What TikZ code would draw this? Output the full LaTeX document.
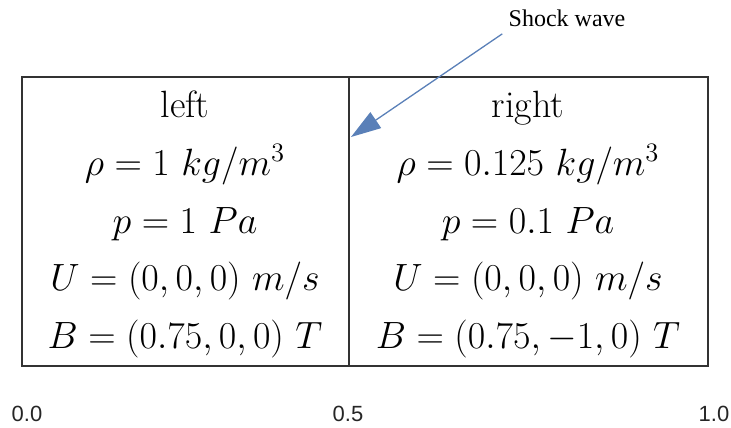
\RequirePackage{fix-cm}
\documentclass[tikz,border=0pt]{standalone}
\usepackage{fontspec}
\usepackage{amsmath}
\usepackage{tikz}
\usetikzlibrary{calc, positioning, arrows.meta}
\newfontfamily\axisfont{Liberation Sans}
\newfontfamily\notefont{Liberation Serif}
\definecolor{boxgray}{HTML}{333333}
\definecolor{wave}{HTML}{5A80B8}
\newcommand{\cellsize}{\fontsize{19}{23}\selectfont}

\begin{document}
\begin{tikzpicture}[x=0.5pt,y=-0.5pt]
  \tikzset{cell/.style={inner sep=0,outer sep=0,anchor=base,font=\cellsize},
    axis label/.style={inner sep=0,font=\axisfont\fontsize{11}{13}\selectfont,text=black!85},
    wall/.style={draw=boxgray,line width=0.8pt}}
  \useasboundingbox (0,0) rectangle (731,427);
  \coordinate(nw) at (22,77);
  \coordinate(se) at (708,366);
  \coordinate(mt) at (349,77);
  \coordinate(mb) at (349,366);
  \draw [wall] (nw) rectangle (se);
  \draw [wall] (mt) -- (mb);
  \node(lt) [cell] at (185,118) {left};
  \node(lrho) [cell] at (185,175.5) {$\rho = 1\ kg/m^3$};
  \node(lp) [cell] at (185,233) {$p = 1\ Pa$};
  \node(lU) [cell] at (185,290.5) {$U = (0,0,0)\ m/s$};
  \node(lB) [cell] at (185,348) {$B = (0.75,0,0)\ T$};
  \node(rt) [cell] at (528,118) {right};
  \node(rrho) [cell] at (528,175.5) {$\rho = 0.125\ kg/m^3$};
  \node(rp) [cell] at (528,233) {$p = 0.1\ Pa$};
  \node(rU) [cell] at (528,290.5) {$U = (0,0,0)\ m/s$};
  \node(rB) [cell] at (528,348) {$B = (0.75,-1,0)\ T$};
  \node(x0) [axis label] at (27,414) {0.0};
  \node(x5) [axis label] at (348,414) {0.5};
  \node(x1) [axis label] at (714,414) {1.0};
  \node(shock) [inner sep=1pt,font=\notefont\fontsize{12}{14}\selectfont] at (567,18) {Shock wave};
  \coordinate(tip) at (351,137);
  \draw [wave,line width=0.65pt,-{Triangle[length=15pt,width=9.5pt]}] ($(shock.south west)+(-4,5)$) -- (tip);
\end{tikzpicture}
\end{document}
